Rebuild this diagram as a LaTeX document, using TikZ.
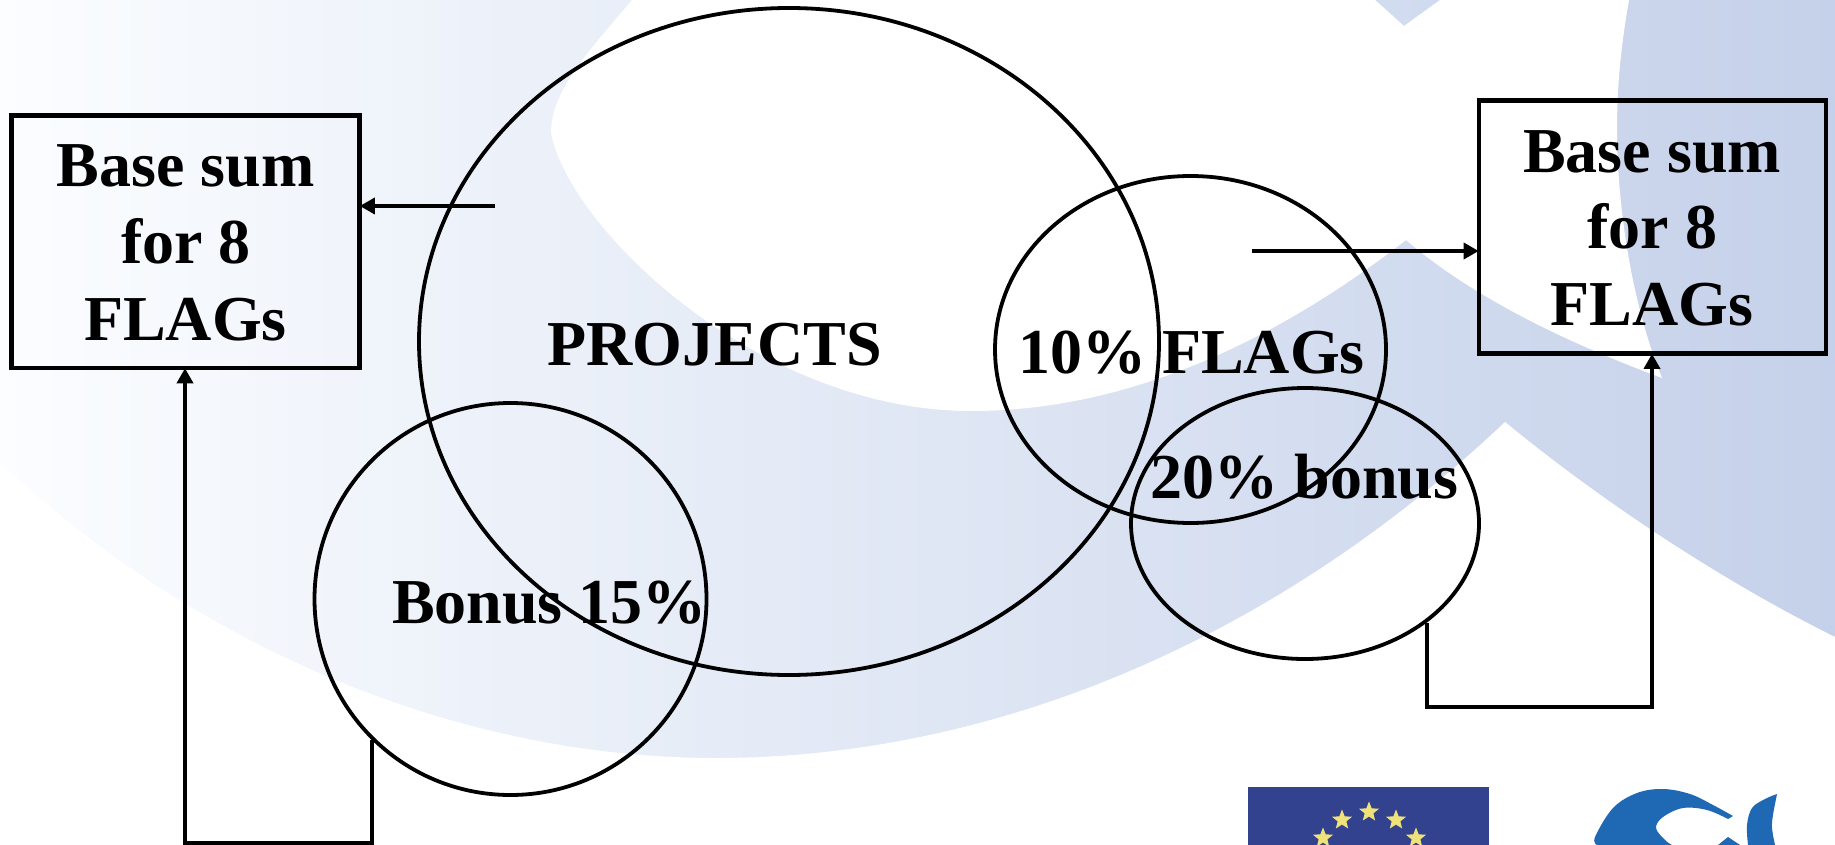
\documentclass[tikz,border=0pt]{standalone}
\usepackage{fontspec}
\setmainfont{Liberation Serif}
\usetikzlibrary{arrows.meta,shapes.geometric}
\definecolor{wmL}{HTML}{FBFDFF}
\definecolor{wmM}{HTML}{E6EAF6}
\definecolor{wmR}{HTML}{C5D1EA}
\definecolor{euBlue}{HTML}{33428F}
\definecolor{euStar}{HTML}{F0E27A}
\definecolor{fishBlue}{HTML}{1F69B4}
\tikzset{
  ring/.style={ellipse,draw=black,line width=3.8pt,inner sep=0pt,fill=none},
  sumbox/.style={rectangle,draw=black,line width=4.6pt,inner sep=0pt},
  lbl/.style={anchor=base,inner sep=0pt,font=\bfseries\fontsize{64}{76}\selectfont},
  link/.style={draw=black,line width=3.4pt,shorten >=-2pt,-{Triangle[length=15pt,width=16pt]}},
  eustar/.style={star,star points=5,star point ratio=2.3,fill=euStar,inner sep=0pt,minimum size=21pt}
}
\begin{document}
\begin{tikzpicture}[x=1pt,y=-1pt]
\useasboundingbox (0,0) rectangle (1835,845);
% watermark
\shade[left color=wmL,middle color=wmM,right color=wmR] (0,0) rectangle (1835,845);
\fill[white] (632,0) .. controls (590,50) and (551,90) .. (551,133)
  .. controls (570,230) and (760,411) .. (971,411)
  .. controls (1140,411) and (1290,330) .. (1406,240)
  .. controls (1470,295) and (1560,340) .. (1662,378)
  .. controls (1630,300) and (1617,200) .. (1617,130)
  .. controls (1617,80) and (1622,40) .. (1629,0)
  -- (1440,0) -- (1404,26) -- (1375,0) -- cycle;
\fill[white] (0,463) .. controls (200,650) and (460,758) .. (716,758)
  .. controls (1000,758) and (1280,635) .. (1505,422)
  .. controls (1600,500) and (1720,580) .. (1835,637)
  -- (1835,845) -- (0,845) -- cycle;
% logos
\fill[euBlue] (1248,787) rectangle (1489,845);
\foreach \sx/\sy [count=\si] in {1369/812,1342/820,1396/820,1323/838,1416/838}
  \node[eustar] (star\si) at (\sx,\sy) {};
\fill[fishBlue] plot[smooth,tension=0.6] coordinates {(1597,845) (1595,837) (1613,808) (1637,793) (1663,789) (1690,794) (1713,805) (1733,816)}
  -- (1728,819) -- plot[smooth,tension=0.6] coordinates {(1728,819) (1707,810) (1683,808) (1663,817) (1656,828) (1665,840) (1672,845)} -- cycle;
\fill[fishBlue] (1718,845) -- (1728,837) -- (1740,845) -- cycle;
\fill[fishBlue] plot[smooth,tension=0.6] coordinates {(1777,794) (1773,815) (1772,828) (1775,845)}
  -- plot[smooth,tension=0.6] coordinates {(1748,845) (1747,825) (1752,808) (1765,799) (1777,794)} -- cycle;
% boxes
\node[sumbox,minimum width=348pt,minimum height=252.5pt] (boxL) at (185.5,241.7) {};
\node[sumbox,minimum width=347pt,minimum height=253pt] (boxR) at (1652.5,227) {};
% ellipses
\node[ring,minimum width=740pt,minimum height=667pt] (projects) at (789,341.5) {};
\node[ring,minimum width=392pt,minimum height=392pt] (bonusL) at (510.5,599) {};
\node[ring,minimum width=391pt,minimum height=347pt] (flags) at (1190.5,349.5) {};
\node[ring,minimum width=348pt,minimum height=271pt] (bonusR) at (1305,523.5) {};
% labels
\node[lbl] (tL1) at (185.5,186) {Base sum};
\node[lbl] (tL2) at (186,263) {for 8};
\node[lbl] (tL3) at (185.5,340) {FLAGs};
\node[lbl] (tR1) at (1652,172) {Base sum};
\node[lbl] (tR2) at (1652.5,248) {for 8};
\node[lbl] (tR3) at (1652,325) {FLAGs};
\node[lbl] (tP) at (714.5,365.5) {PROJECTS};
\node[lbl] (tF) at (1191.5,373) {10\% FLAGs};
\node[lbl] (tB) at (1304.5,498) {20\% bonus};
\node[lbl] (tBL) at (549.5,623) {Bonus 15\%};
% connectors
\coordinate (startL) at (495,206);
\coordinate (startR) at (1252,251);
\coordinate (elbowL) at (372,740);
\coordinate (elbowLb) at (372,843);
\coordinate (elbowLc) at (185,843);
\coordinate (elbowR) at (1427,623);
\coordinate (elbowRb) at (1427,707);
\coordinate (elbowRc) at (1652,707);
\draw[link] (startL) -- (boxL.east |- startL);
\draw[link] (startR) -- (boxR.west |- startR);
\draw[link] (elbowL) -- (elbowLb) -- (elbowLc) -- (elbowLc |- boxL.south);
\draw[link] (elbowR) -- (elbowRb) -- (elbowRc) -- (elbowRc |- boxR.south);
\end{tikzpicture}
\end{document}
